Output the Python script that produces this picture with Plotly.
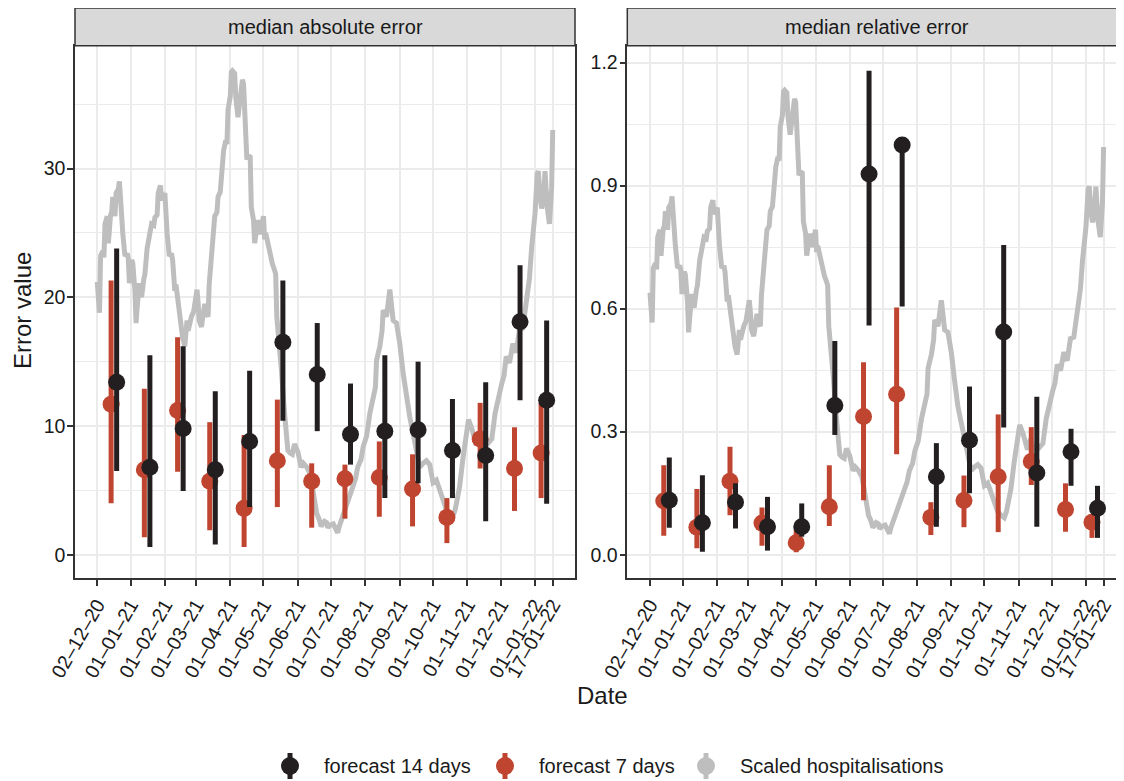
import pandas as pd
import plotly.graph_objects as go

# ---------------- data ----------------
window_mid = ["2020-12-17", "2021-01-16", "2021-02-15", "2021-03-16", "2021-04-16",
              "2021-05-16", "2021-06-16", "2021-07-16", "2021-08-16", "2021-09-15",
              "2021-10-16", "2021-11-15", "2021-12-16", "2022-01-09"]

abs_7_med = [11.7, 6.6, 11.2, 5.7, 3.6, 7.3, 5.7, 5.9, 6.0, 5.1, 2.9, 9.0, 6.7, 7.9]
abs_7_lo = [4.0, 1.35, 6.45, 1.9, 0.6, 3.7, 2.1, 2.8, 2.95, 2.2, 0.9, 6.7, 3.4, 4.4]
abs_7_hi = [21.3, 12.9, 16.9, 10.3, 9.3, 12.05, 7.1, 7.0, 8.8, 7.8, 4.4, 11.8, 9.9, 11.8]

abs_14_med = [13.4, 6.8, 9.8, 6.6, 8.8, 16.5, 14.0, 9.35, 9.6, 9.7, 8.1, 7.7, 18.1, 12.0]
abs_14_lo = [6.5, 0.6, 4.95, 0.8, 3.7, 10.4, 9.6, 7.0, 4.4, 5.55, 4.4, 2.6, 12.0, 3.95]
abs_14_hi = [23.8, 15.5, 16.2, 12.7, 14.3, 21.3, 18.0, 13.3, 15.5, 15.0, 12.1, 13.4, 22.5, 18.2]

rel_7_med = [0.131, 0.067, 0.179, 0.077, 0.029, 0.117, 0.337, 0.391, 0.091, 0.132, 0.19, 0.227, 0.11, 0.079]
rel_7_lo = [0.046, 0.016, 0.096, 0.022, 0.006, 0.07, 0.133, 0.245, 0.048, 0.067, 0.055, 0.17, 0.056, 0.041]
rel_7_hi = [0.218, 0.16, 0.263, 0.115, 0.06, 0.218, 0.469, 0.603, 0.128, 0.193, 0.342, 0.311, 0.174, 0.097]

rel_14_med = [0.133, 0.078, 0.128, 0.068, 0.068, 0.364, 0.928, 0.999, 0.19, 0.279, 0.543, 0.199, 0.251, 0.113]
rel_14_lo = [0.066, 0.007, 0.064, 0.01, 0.044, 0.292, 0.559, 0.605, 0.068, 0.15, 0.31, 0.068, 0.168, 0.041]
rel_14_hi = [0.237, 0.194, 0.174, 0.141, 0.125, 0.521, 1.18, 1.0, 0.272, 0.41, 0.755, 0.385, 0.307, 0.168]

# hospitalisations (scaled to the absolute-error panel): (day offset from hosp_start, value)
hosp_start = "2020-12-02"
hosp_points = [
    (0, 21.2), (1, 19.5), (2, 18.8), (3, 23.2), (5, 23.6), (6, 23.1), (7, 25.7), (9, 26.3), (10, 24.2),
    (12, 26.4), (13, 26.6), (14, 27.8), (15, 26.9), (16, 26.3), (17, 28.1), (19, 28.4), (20, 29.0),
    (21, 27.4), (22, 26.5), (23, 25.0), (25, 23.2), (27, 23.4), (28, 23.0), (29, 21.1), (31, 22.9),
    (32, 22.7), (34, 20.5), (35, 18.0), (36, 19.2), (38, 21.1), (39, 20.6), (40, 20.0), (42, 21.4),
    (43, 21.8), (45, 23.8), (46, 24.2), (48, 25.1), (49, 25.7), (51, 25.6), (52, 26.2), (54, 26.4),
    (55, 28.1), (57, 28.7), (58, 27.6), (59, 27.7), (61, 28.1), (62, 26.2), (63, 25.0), (65, 23.2),
    (67, 23.4), (68, 22.9), (70, 20.5), (71, 21.0), (72, 20.2), (74, 19.0), (75, 18.2), (77, 16.9),
    (79, 16.2), (80, 17.0), (81, 18.2), (82, 17.4), (84, 18.4), (85, 18.5), (87, 18.9), (88, 19.5),
    (90, 20.6), (91, 19.6), (92, 18.2), (94, 17.7), (95, 18.4), (97, 19.5), (98, 18.8), (100, 18.5),
    (101, 21.0), (103, 23.4), (104, 23.6), (106, 26.3), (108, 26.6), (109, 27.8), (111, 28.2),
    (112, 29.7), (114, 31.4), (116, 32.2), (117, 31.9), (118, 34.6), (120, 35.6), (121, 37.5),
    (122, 37.6), (124, 37.4), (125, 35.5), (127, 34.0), (128, 34.6), (129, 35.3), (131, 36.9),
    (132, 36.6), (133, 34.0), (135, 30.7), (136, 31.0), (138, 30.9), (139, 27.0), (141, 26.0),
    (142, 24.2), (143, 25.1), (145, 26.0), (147, 24.9), (148, 25.4), (150, 26.3), (151, 24.5),
    (152, 25.0), (154, 24.2), (155, 23.7), (157, 22.9), (158, 22.6), (160, 22.1), (161, 21.8),
    (162, 18.5), (164, 16.7), (166, 14.5), (169, 11.0), (171, 8.4), (172, 8.1), (174, 7.9), (176, 7.8),
    (178, 8.6), (180, 8.2), (181, 8.0), (184, 6.8), (186, 7.1), (189, 6.8), (192, 6.3), (195, 4.8),
    (198, 3.2), (200, 2.8), (202, 2.2), (205, 2.6), (207, 2.5), (208, 2.1), (210, 2.3), (213, 2.4),
    (215, 2.0), (217, 1.7), (218, 2.1), (220, 2.6), (223, 3.5), (225, 4.1), (228, 4.8), (231, 5.5),
    (233, 5.9), (235, 6.8), (238, 7.4), (240, 8.4), (243, 9.2), (246, 11.0), (249, 12.5), (251, 13.0),
    (252, 15.1), (255, 16.2), (257, 17.4), (258, 19.0), (261, 18.5), (262, 19.4), (264, 20.6),
    (265, 19.8), (267, 18.2), (270, 18.0), (273, 16.4), (276, 14.1), (279, 12.0), (282, 10.7),
    (285, 9.4), (288, 8.0), (291, 6.8), (294, 7.1), (297, 7.3), (300, 7.0), (303, 5.6), (306, 5.8),
    (309, 5.0), (312, 4.2), (315, 3.5), (318, 3.2), (321, 3.0), (323, 3.5), (327, 5.3), (330, 7.5),
    (332, 8.9), (335, 10.5), (338, 9.8), (342, 8.5), (345, 9.4), (348, 8.3), (352, 8.6), (356, 9.0),
    (359, 11.0), (362, 12.4), (365, 13.3), (367, 13.9), (369, 15.4), (372, 14.9), (375, 16.4),
    (378, 15.7), (381, 17.5), (384, 17.6), (387, 19.8), (390, 21.5), (392, 23.9), (395, 26.5),
    (397, 29.6), (398, 29.8), (400, 27.5), (401, 26.9), (403, 28.0), (404, 29.8), (406, 27.0),
    (408, 25.7), (410, 28.5), (411, 33.0),
]
REL_SCALE = 1 / 33.2   # scaling of hospitalisations for the relative-error panel

tick_dates = ["2020-12-02", "2021-01-01", "2021-02-01", "2021-03-01", "2021-04-01", "2021-05-01",
              "2021-06-01", "2021-07-01", "2021-08-01", "2021-09-01", "2021-10-01", "2021-11-01",
              "2021-12-01", "2022-01-01", "2022-01-17"]
tick_labels = ["02–12–20", "01–01–21", "01–02–21", "01–03–21", "01–04–21", "01–05–21",
               "01–06–21", "01–07–21", "01–08–21", "01–09–21", "01–10–21", "01–11–21",
               "01–12–21", "01–01–22", "17–01–22"]

# ---------------- style ----------------
OFF = 8                      # page body margin of the html page
W, H = 1124 - OFF, 781 - OFF
FONT = "Liberation Sans, Arial, Helvetica, sans-serif"
TXT = "#1A1A1A"
C14 = "#231F20"
C7 = "#BF4530"
CH = "#BEBEBE"
GRID = "#EBEBEB"
BORDER = "#333333"
DODGE_DAYS = 2.5
SMALL = 20
TICK = 19.5
TITLE = 24


def fx(p):
    return (p - OFF) / W


def fy(p):
    return 1 - (p - OFF) / H


mid = pd.to_datetime(window_mid)
x7 = mid - pd.Timedelta(days=DODGE_DAYS)
x14 = mid + pd.Timedelta(days=DODGE_DAYS)
hosp_day = [d for d, _ in hosp_points]
hosp_val = [v for _, v in hosp_points]
hosp_x = pd.to_datetime(hosp_start) + pd.to_timedelta(hosp_day, unit="D")


def err(med, lo, hi, color):
    return dict(type="data", symmetric=False,
                array=[h - m for m, h in zip(med, hi)],
                arrayminus=[m - l for m, l in zip(med, lo)],
                thickness=5, width=0, color=color)


fig = go.Figure()

panels = [
    ("x", "y", abs_7_med, abs_7_lo, abs_7_hi, abs_14_med, abs_14_lo, abs_14_hi, 1.0),
    ("x2", "y2", rel_7_med, rel_7_lo, rel_7_hi, rel_14_med, rel_14_lo, rel_14_hi, REL_SCALE),
]
for xa, ya, m7, l7, h7, m14, l14, h14, sc in panels:
    fig.add_trace(go.Scatter(x=hosp_x, y=[v * sc for v in hosp_val], mode="lines",
                             line=dict(color=CH, width=5), xaxis=xa, yaxis=ya,
                             showlegend=False, name="Scaled hospitalisations"))
    fig.add_trace(go.Scatter(x=x7, y=m7, mode="markers", marker=dict(color=C7, size=17),
                             error_y=err(m7, l7, h7, C7), xaxis=xa, yaxis=ya, showlegend=False,
                             name="forecast 7 days"))
    fig.add_trace(go.Scatter(x=x14, y=m14, mode="markers", marker=dict(color=C14, size=17),
                             error_y=err(m14, l14, h14, C14), xaxis=xa, yaxis=ya, showlegend=False,
                             name="forecast 14 days"))

PT, PB = 45.7, 578.0
ydom = [fy(PB), fy(PT)]

common_x = dict(type="date", tickvals=tick_dates, ticktext=tick_labels, tickangle=-60,
                ticks="outside", ticklen=6, tickwidth=1.5, tickcolor=BORDER,
                showline=True, linecolor=BORDER, linewidth=1.5, mirror=True,
                showgrid=True, gridcolor=GRID, gridwidth=1.6, zeroline=False,
                tickfont=dict(family=FONT, size=TICK, color=TXT), automargin=False)
common_y = dict(ticks="outside", ticklen=6, tickwidth=1.5, tickcolor=BORDER,
                showline=True, linecolor=BORDER, linewidth=1.5,
                showgrid=True, gridcolor=GRID, gridwidth=1.6, zeroline=False,
                tickfont=dict(family=FONT, size=TICK, color=TXT), automargin=False,
                ticklabelstandoff=-2, domain=ydom)

fig.update_layout(
    width=W, height=H, autosize=False,
    margin=dict(l=0, r=0, t=0, b=0),
    paper_bgcolor="white", plot_bgcolor="white",
    showlegend=False,
    xaxis=dict(common_x, domain=[fx(75), fx(575)], anchor="y",
               range=["2020-11-11 22:00", "2022-02-06 02:00"]),
    xaxis2=dict(common_x, domain=[fx(627.3), 1.0], anchor="y2",
                range=["2020-11-11 11:00", "2022-02-04 12:00"]),
    yaxis=dict(common_y, anchor="x", range=[-1.81, 39.55], mirror=True,
               tickvals=[0, 10, 20, 30],
               minor=dict(tickvals=[5, 15, 25, 35], showgrid=True, gridcolor=GRID, gridwidth=0.9)),
    yaxis2=dict(common_y, anchor="x2", range=[-0.0568, 1.241], mirror=False,
                tickvals=[0.0, 0.3, 0.6, 0.9, 1.2], ticktext=["0.0", "0.3", "0.6", "0.9", "1.2"],
                minor=dict(tickvals=[0.15, 0.45, 0.75, 1.05], showgrid=True, gridcolor=GRID, gridwidth=0.9)),
)

shapes = []
annotations = []
# strips
for x0, x1, label in [(75, 575, "median absolute error"), (627.3, 1127.3, "median relative error")]:
    shapes.append(dict(type="rect", xref="paper", yref="paper", x0=fx(x0), x1=fx(x1),
                       y0=fy(PT), y1=fy(8), fillcolor="#D9D9D9",
                       line=dict(color=BORDER, width=1.5), layer="above"))
    annotations.append(dict(text=label, xref="paper", yref="paper",
                            x=fx((x0 + x1) / 2), y=fy(27), showarrow=False,
                            xanchor="center", yanchor="middle",
                            font=dict(family=FONT, size=SMALL, color=TXT)))

# axis titles
annotations.append(dict(text="Error value", xref="paper", yref="paper", x=fx(22), y=fy(311),
                        textangle=-90, showarrow=False, xanchor="center", yanchor="middle",
                        font=dict(family=FONT, size=TITLE, color=TXT)))
annotations.append(dict(text="Date", xref="paper", yref="paper", x=fx(602), y=fy(695),
                        showarrow=False, xanchor="center", yanchor="middle",
                        font=dict(family=FONT, size=TITLE, color=TXT)))

# legend (drawn manually to mimic point-range keys)
LY = 766
for cx, col, label in [(290, C14, "forecast 14 days"), (505, C7, "forecast 7 days"),
                       (706, CH, "Scaled hospitalisations")]:
    shapes.append(dict(type="line", xref="paper", yref="paper", x0=fx(cx), x1=fx(cx),
                       y0=fy(LY - 13), y1=fy(LY + 13), line=dict(color=col, width=5)))
    shapes.append(dict(type="circle", xref="paper", yref="paper", x0=fx(cx - 9), x1=fx(cx + 9),
                       y0=fy(LY + 9), y1=fy(LY - 9), fillcolor=col, line=dict(color=col, width=0)))
    annotations.append(dict(text=label, xref="paper", yref="paper", x=fx(cx + 32), y=fy(LY),
                            showarrow=False, xanchor="left", yanchor="middle",
                            font=dict(family=FONT, size=SMALL, color=TXT)))

fig.update_layout(shapes=shapes, annotations=annotations)
fig.write_html("out.html")
